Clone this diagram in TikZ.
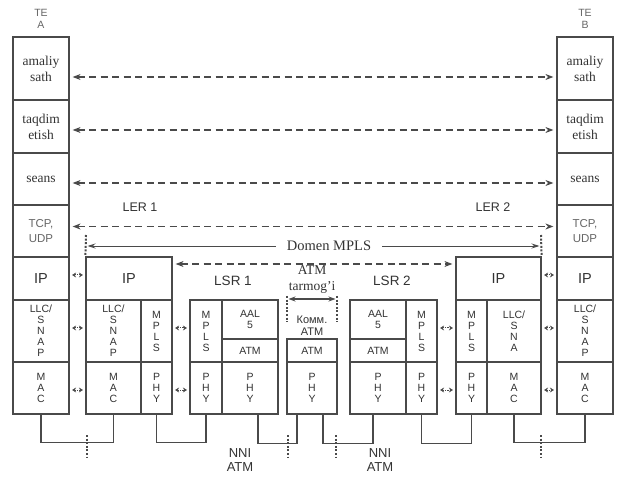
\documentclass[tikz,border=0pt]{standalone}
\usepackage{fontspec}
\setmainfont{Liberation Serif}
\setsansfont{Liberation Sans}
\usetikzlibrary{arrows.meta}
\definecolor{ln}{HTML}{4A4A4A}
\definecolor{tx}{HTML}{333333}
\definecolor{lt}{HTML}{666666}
\newcommand\cell[7][]{\node[cell,#1,minimum width={(#5-#3)*1pt},minimum height={(#6-#4)*1pt}] (#2) at ({(#3+#5)/2},{(#4+#6)/2}) {#7};}
\tikzset{
  cell/.style={draw=ln,line width=1.2pt,inner sep=0pt,text=tx,align=center,anchor=center},
  sv/.style={font=\fontsize{13.5}{16}\selectfont},
  ss/.style={font=\sffamily\fontsize{10.5}{11}\selectfont},
  sip/.style={font=\sffamily\fontsize{14.5}{16}\selectfont},
  stcp/.style={font=\sffamily\fontsize{11.5}{14.5}\selectfont,text=lt},
  lab/.style={text=tx,align=center,inner sep=0pt,font=\sffamily\fontsize{13}{14}\selectfont},
  dasharrow/.style={draw=ln,line width=1.1pt,dash pattern=on 7pt off 4.5pt,{Stealth[length=8pt,width=6pt]}-{Stealth[length=8pt,width=6pt]},shorten <=3pt,shorten >=3pt},
  thinarrow/.style={draw=ln,line width=0.9pt,-{Stealth[length=8pt,width=5pt]}},
  dotline/.style={draw=ln,line width=2pt,dash pattern=on 2pt off 1.6pt},
  smallarr/.style={draw=ln,line width=1pt,dash pattern=on 1.2pt off 1.2pt,{Stealth[length=4pt,width=5pt]}-{Stealth[length=4pt,width=5pt]},shorten <=2.5pt,shorten >=2.5pt},
  conn/.style={draw=ln,line width=1.2pt}
}
\begin{document}
\begin{tikzpicture}[x=1pt,y=-1pt]
\useasboundingbox[fill=white] (0,0) rectangle (624,478);
% TE A
\cell[sv]{aA1}{13}{37}{69}{100}{amaliy\\sath}
\cell[sv]{aA2}{13}{100}{69}{153}{taqdim\\etish}
\cell[sv]{aA3}{13}{153}{69}{205}{seans}
\cell[stcp]{aA4}{13}{205}{69}{257}{TCP,\\UDP}
\cell[sip]{aA5}{13}{257}{69}{300}{IP}
\cell[ss]{aA6}{13}{300}{69}{362}{LLC/\\S\\N\\A\\P}
\cell[ss]{aA7}{13}{362}{69}{414}{M\\A\\C}
% TE B
\cell[sv]{bB1}{557}{37}{613}{100}{amaliy\\sath}
\cell[sv]{bB2}{557}{100}{613}{153}{taqdim\\etish}
\cell[sv]{bB3}{557}{153}{613}{205}{seans}
\cell[stcp]{bB4}{557}{205}{613}{257}{TCP,\\UDP}
\cell[sip]{bB5}{557}{257}{613}{300}{IP}
\cell[ss]{bB6}{557}{300}{613}{362}{LLC/\\S\\N\\A\\P}
\cell[ss]{bB7}{557}{362}{613}{414}{M\\A\\C}
% LER 1
\cell[sip]{l1ip}{86}{257}{172}{300}{IP}
\cell[ss]{l1llc}{86}{300}{141}{362}{LLC/\\S\\N\\A\\P}
\cell[ss]{l1mac}{86}{362}{141}{414}{M\\A\\C}
\cell[ss]{l1mpls}{141}{300}{172}{362}{M\\P\\L\\S}
\cell[ss]{l1phy}{141}{362}{172}{414}{P\\H\\Y}
% LSR 1
\cell[ss]{s1mpls}{190}{300}{222}{362}{M\\P\\L\\S}
\cell[ss]{s1phyL}{190}{362}{222}{414}{P\\H\\Y}
\cell[ss]{s1aal}{222}{300}{278}{339}{AAL\\5}
\cell[ss]{s1atm}{222}{339}{278}{362}{ATM}
\cell[ss]{s1phyR}{222}{362}{278}{414}{P\\H\\Y}
% ATM switch
\cell[ss]{swatm}{287}{339}{337}{362}{ATM}
\cell[ss]{swphy}{287}{362}{337}{414}{P\\H\\Y}
% LSR 2
\cell[ss]{s2aal}{350}{300}{406}{339}{AAL\\5}
\cell[ss]{s2atm}{350}{339}{406}{362}{ATM}
\cell[ss]{s2phyL}{350}{362}{406}{414}{P\\H\\Y}
\cell[ss]{s2mpls}{406}{300}{437}{362}{M\\P\\L\\S}
\cell[ss]{s2phyR}{406}{362}{437}{414}{P\\H\\Y}
% LER 2
\cell[sip]{l2ip}{456}{257}{541}{300}{IP}
\cell[ss]{l2mpls}{456}{300}{487}{362}{M\\P\\L\\S}
\cell[ss]{l2phy}{456}{362}{487}{414}{P\\H\\Y}
\cell[ss]{l2llc}{487}{300}{541}{362}{LLC/\\S\\N\\A}
\cell[ss]{l2mac}{487}{362}{541}{414}{M\\A\\C}
% labels
\node[lab,text=lt,font=\sffamily\fontsize{10.5}{12.5}\selectfont] (teA) at (41,19) {TE\\A};
\node[lab,text=lt,font=\sffamily\fontsize{10.5}{12.5}\selectfont] (teB) at (585,19) {TE\\B};
\node[lab,font=\sffamily\fontsize{12.5}{14}\selectfont] (ler1) at (140,207) {LER 1};
\node[lab,font=\sffamily\fontsize{12.5}{14}\selectfont] (ler2) at (493,207) {LER 2};
\node[lab,font=\sffamily\fontsize{13.5}{14}\selectfont] (lsr1) at (233,281) {LSR 1};
\node[lab,font=\sffamily\fontsize{13.5}{14}\selectfont] (lsr2) at (392,281) {LSR 2};
\node[lab] (nni1) at (240,460) {NNI\\ATM};
\node[lab] (nni2) at (380,460) {NNI\\ATM};
% layer peer arrows
\draw[dasharrow] ([yshift=-8.5pt]aA1.east) -- ([yshift=-8.5pt]bB1.west);
\draw[dasharrow] ([yshift=-3.5pt]aA2.east) -- ([yshift=-3.5pt]bB2.west);
\draw[dasharrow] ([yshift=-4pt]aA3.east) -- ([yshift=-4pt]bB3.west);
\draw[dasharrow] ([yshift=4.5pt]aA4.east) -- ([yshift=4.5pt]bB4.west);
\draw[dasharrow] ([yshift=14.5pt]l1ip.east) -- ([yshift=14.5pt]l2ip.west);
% Domen MPLS
\coordinate (dmL) at (86,235);
\coordinate (dmR) at (541,235);
\draw[dotline] (dmL) -- (l1ip.north west);
\draw[dotline] (dmR) -- (l2ip.north east);
\node[lab,font=\fontsize{14.5}{16}\selectfont,inner xsep=11pt] (dom) at (329,246) {Domen MPLS};
\draw[thinarrow] (dom.west) -- ([xshift=1.5pt]dmL |- dom.west);
\draw[thinarrow] (dom.east) -- ([xshift=-1.5pt]dmR |- dom.east);
% ATM network
\node[lab,font=\fontsize{13.5}{16}\selectfont] (atmnet) at (312,280) {ATM\\tarmog'i};
\coordinate (kLt) at (287,296);
\coordinate (kLb) at (287,322);
\coordinate (kRt) at (337,296);
\coordinate (kRb) at (337,322);
\draw[dotline] (kLt) -- (kLb);
\draw[dotline] (kRt) -- (kRb);
\draw[draw=ln,line width=1.1pt,{Stealth[length=7pt,width=5pt]}-{Stealth[length=7pt,width=5pt]},shorten <=1.5pt,shorten >=1.5pt] ([yshift=-3pt]kLt) -- ([yshift=-3pt]kRt);
\node[lab,font=\sffamily\fontsize{11}{12}\selectfont] (komm) at (312,326) {Комм.\\ATM};
% small inter-node arrows
\draw[smallarr] ([yshift=3.5pt]aA5.east) -- ([yshift=3.5pt]l1ip.west);
\draw[smallarr] ([yshift=3pt]aA6.east) -- ([yshift=3pt]l1llc.west);
\draw[smallarr] ([yshift=-2pt]aA7.east) -- ([yshift=-2pt]l1mac.west);
\draw[smallarr] ([yshift=3pt]l1mpls.east) -- ([yshift=3pt]s1mpls.west);
\draw[smallarr] ([yshift=-2pt]l1phy.east) -- ([yshift=-2pt]s1phyL.west);
\draw[smallarr] ([yshift=3pt]s2mpls.east) -- ([yshift=3pt]l2mpls.west);
\draw[smallarr] ([yshift=-2pt]s2phyR.east) -- ([yshift=-2pt]l2phy.west);
\draw[smallarr] ([yshift=3.5pt]l2ip.east) -- ([yshift=3.5pt]bB5.west);
\draw[smallarr] ([yshift=3pt]l2llc.east) -- ([yshift=3pt]bB6.west);
\draw[smallarr] ([yshift=-2pt]l2mac.east) -- ([yshift=-2pt]bB7.west);
% physical links
\draw[conn] (aA7.south) -- ++(0,28) -| (l1mac.south);
\draw[conn] (l1phy.south) -- ++(0,28) -| (s1phyL.south);
\draw[conn] ([xshift=8pt]s1phyR.south) -- ++(0,29) -| ([xshift=-15pt]swphy.south);
\draw[conn] ([xshift=11pt]swphy.south) -- ++(0,29) -| ([xshift=-5pt]s2phyL.south);
\draw[conn] (s2phyR.south) -- ++(0,29) -| (l2phy.south);
\draw[conn] (l2mac.south) -- ++(0,28) -| (bB7.south);
% dotted boundaries
\coordinate (b1t) at (87,435); \coordinate (b1b) at (87,458);
\coordinate (b2t) at (288,435); \coordinate (b2b) at (288,458);
\coordinate (b3t) at (336,435); \coordinate (b3b) at (336,458);
\coordinate (b4t) at (541,435); \coordinate (b4b) at (541,458);
\draw[dotline] (b1t) -- (b1b);
\draw[dotline] (b2t) -- (b2b);
\draw[dotline] (b3t) -- (b3b);
\draw[dotline] (b4t) -- (b4b);
\end{tikzpicture}
\end{document}
